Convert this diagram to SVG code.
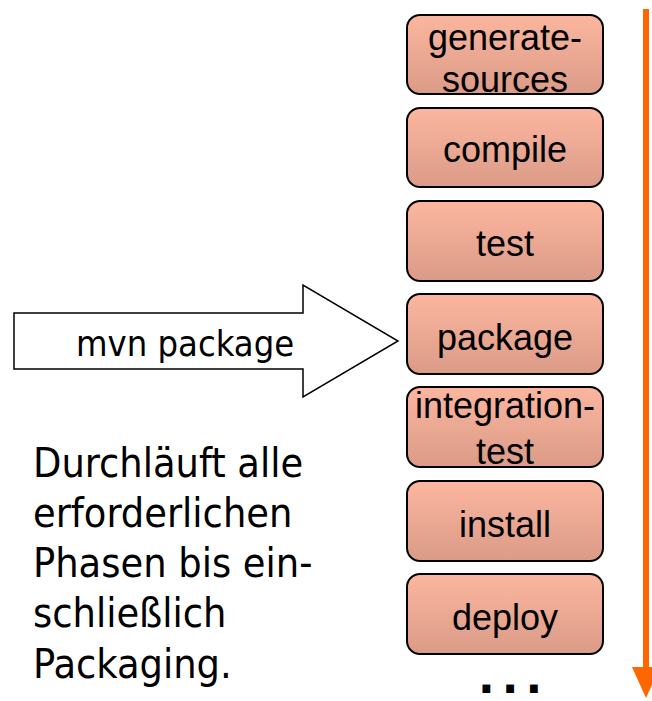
<svg xmlns="http://www.w3.org/2000/svg" width="652" height="701" viewBox="0 0 652 701">
<defs>
<linearGradient id="boxfill" x1="0" y1="0" x2="0" y2="1">
<stop offset="0" stop-color="#FCB69F"/>
<stop offset="1" stop-color="#DA9B87"/>
</linearGradient>
<style>
.box{fill:url(#boxfill);stroke:#000;stroke-width:2}
.bt{font-family:"Liberation Sans",Arial,sans-serif;font-size:36px;fill:#000;text-anchor:middle}
.lt{font-family:"DejaVu Sans Condensed","DejaVu Sans",sans-serif;font-size:41px;fill:#000}
</style>
</defs>
<rect width="652" height="701" fill="#fff"/>
<g id="timeline">
<rect x="643" y="9" width="6" height="660" fill="#FF6600"/>
<polygon points="632,667 660,667 646,698" fill="#FF6600"/>
</g>
<g id="connectors">
<polygon id="mvn-arrow" points="14,313 303,313 303,285 398,341 303,397 303,369 14,369" fill="#fff" stroke="#000" stroke-width="1.5"/>
<text x="76" y="356" style="font-family:'DejaVu Sans Condensed','DejaVu Sans',sans-serif;font-size:36px">mvn package</text>
</g>
<g id="generate-sources">
<rect class="box" x="407" y="15" width="196" height="79" rx="13"/>
<text class="bt" x="505" y="50">generate-</text>
<text class="bt" x="505" y="92">sources</text>
</g>
<g id="compile">
<rect class="box" x="407" y="108" width="196" height="79" rx="13"/>
<text class="bt" x="505" y="162">compile</text>
</g>
<g id="test">
<rect class="box" x="407" y="201" width="196" height="80" rx="13"/>
<text class="bt" x="505" y="256">test</text>
</g>
<g id="package">
<rect class="box" x="407" y="294" width="196" height="80" rx="13"/>
<text class="bt" x="505" y="350">package</text>
</g>
<g id="integration-test">
<rect class="box" x="407" y="387" width="196" height="80" rx="13"/>
<text class="bt" x="505" y="418">integration-</text>
<text class="bt" x="505" y="464">test</text>
</g>
<g id="install">
<rect class="box" x="407" y="481" width="196" height="80" rx="13"/>
<text class="bt" x="505" y="537">install</text>
</g>
<g id="deploy">
<rect class="box" x="407" y="574" width="196" height="80" rx="13"/>
<text class="bt" x="505" y="630">deploy</text>
</g>
<g id="ellipsis">
<text x="478" y="693" style="font-family:'DejaVu Sans',sans-serif;font-weight:bold;font-size:44px;letter-spacing:7px">...</text>
</g>
<g id="description">
<text class="lt" x="33" y="477">Durchläuft alle</text>
<text class="lt" x="33" y="527">erforderlichen</text>
<text class="lt" x="33" y="577">Phasen bis ein-</text>
<text class="lt" x="33" y="627">schließlich</text>
<text class="lt" x="33" y="678">Packaging.</text>
</g>
</svg>
